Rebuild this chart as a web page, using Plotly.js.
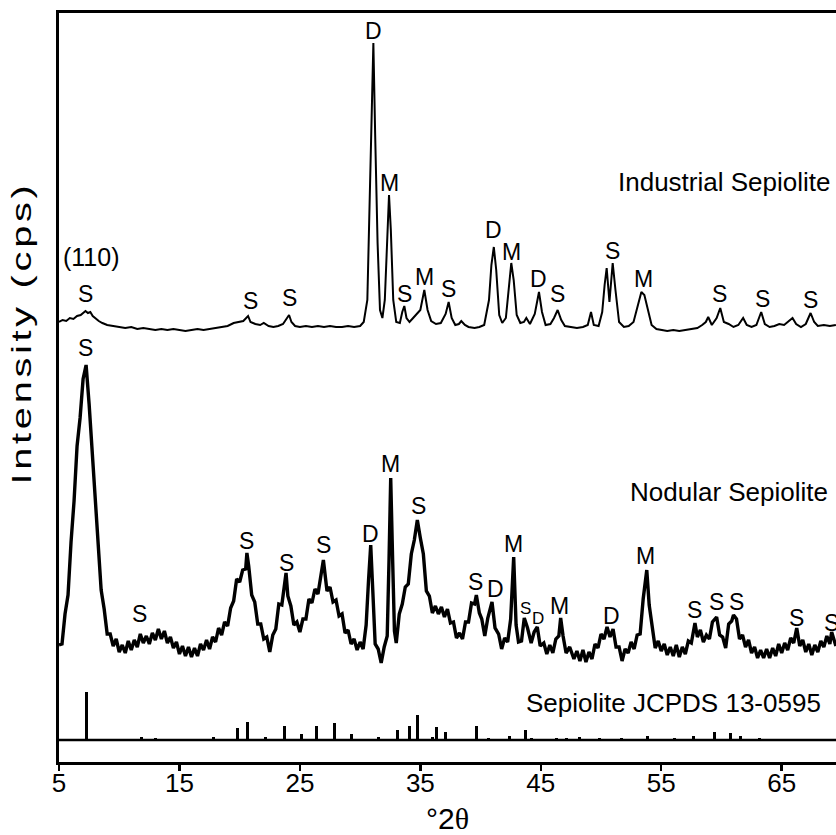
<!DOCTYPE html>
<html>
<head>
<meta charset="utf-8">
<script src="https://cdn.plot.ly/plotly-3.0.1.min.js"></script>
<style>html,body{margin:0;padding:0;background:#fff;}#chart{width:836px;height:835px;}</style>
</head>
<body>
<div id="chart"></div>
<script>
// ---- Industrial sepiolite trace (2θ, intensity, arbitrary offset units) ----
const indX = [5.0,5.3,5.6,5.9,6.2,6.5,6.8,7.0,7.2,7.4,7.6,7.8,8.0,8.3,8.6,9.0,9.5,10.0,10.5,11.0,
11.5,12.0,12.5,13.0,13.5,14.0,14.5,15.0,15.5,16.0,16.5,17.0,17.5,18.0,18.5,19.0,19.5,20.0,20.3,20.7,
20.9,21.3,21.7,22.0,22.4,22.8,23.2,23.6,23.9,24.1,24.3,24.6,25.0,25.5,26.0,26.5,27.0,27.5,28.0,28.5,
29.0,29.5,30.0,30.3,30.6,30.8,31.0,31.1,31.25,31.45,31.65,31.85,32.05,32.25,32.4,32.55,32.75,33.0,33.3,33.5,
33.67,33.85,34.1,34.4,34.75,35.0,35.33,35.6,35.9,36.3,36.7,37.1,37.35,37.6,37.9,38.2,38.4,38.7,39.0,39.5,
39.9,40.3,40.7,40.9,41.1,41.3,41.55,41.8,42.1,42.35,42.55,42.75,43.0,43.3,43.6,43.8,44.1,44.5,44.85,45.1,
45.4,45.8,46.1,46.4,46.7,47.0,47.5,48.0,48.5,48.9,49.17,49.4,49.8,50.1,50.3,50.47,50.7,50.97,51.2,51.5,
51.9,52.3,52.7,53.1,53.35,53.6,53.9,54.2,54.6,55.0,55.5,56.0,56.5,57.0,57.5,58.0,58.4,58.7,58.9,59.2,
59.6,59.9,60.2,60.6,61.0,61.4,61.8,62.1,62.5,62.9,63.3,63.6,64.0,64.4,64.8,65.2,65.5,65.9,66.2,66.6,
67.0,67.4,67.7,68.0,68.5,69.0,69.5];
const indY = [440,442,441,444,443,446,447,449,451,449,450,446,444,441,439,437,436,435,434,435,
433,434,433,432,433,432,433,432,431,432,433,432,433,434,435,436,439,440,441,446,
440,438,437,439,436,435,436,438,443,447,440,436,435,436,435,436,435,436,435,435,
436,435,436,440,462,562,662,719,627,519,452,444,462,532,567,532,462,440,439,450,
456,444,440,444,449,452,472,452,441,438,439,448,460,444,437,438,441,437,435,434,
435,437,462,497,515,492,447,439,444,477,499,482,447,439,440,444,438,448,470,450,
437,438,444,452,442,436,435,434,435,437,450,437,436,450,477,494,460,499,472,440,
435,436,440,457,470,467,452,437,433,432,431,432,431,432,433,434,437,440,445,437,
444,454,440,438,435,437,444,437,435,437,450,438,435,436,438,437,440,444,438,435,
438,449,440,436,437,436,437];

// ---- Nodular sepiolite trace ----
const nodX = [5.0,5.25,5.5,5.75,6.0,6.25,6.5,6.75,7.0,7.25,7.5,7.75,8.0,8.25,8.5,8.75,9.0,9.25,9.5,9.75,
10.0,10.25,10.5,10.75,11.0,11.25,11.5,11.75,12.0,12.25,12.5,12.75,13.0,13.25,13.5,13.75,14.0,14.25,14.5,14.75,
15.0,15.25,15.5,15.75,16.0,16.25,16.5,16.75,17.0,17.25,17.5,17.75,18.0,18.25,18.5,18.75,19.0,19.25,19.5,19.75,
20.0,20.25,20.5,20.6,20.75,21.0,21.25,21.5,21.75,22.0,22.25,22.5,22.75,23.0,23.25,23.5,23.75,23.85,24.0,24.25,
24.5,24.75,25.0,25.25,25.5,25.75,26.0,26.25,26.5,26.75,26.95,27.25,27.5,27.75,28.0,28.25,28.5,28.75,29.0,29.25,
29.5,29.75,30.0,30.25,30.5,30.7,30.88,31.05,31.25,31.5,31.75,32.0,32.25,32.4,32.54,32.7,32.85,33.0,33.25,33.5,
33.75,34.0,34.25,34.5,34.75,35.0,35.25,35.5,35.75,36.0,36.25,36.5,36.75,37.0,37.25,37.5,37.75,38.0,38.25,38.5,
38.75,39.0,39.25,39.5,39.65,39.9,40.1,40.35,40.6,40.95,41.2,41.5,41.75,42.0,42.25,42.5,42.75,42.95,43.15,43.4,
43.63,43.9,44.2,44.45,44.71,44.95,45.25,45.5,45.75,46.0,46.25,46.5,46.65,46.85,47.1,47.4,47.75,48.0,48.25,48.5,
48.75,49.0,49.25,49.5,49.75,50.0,50.25,50.5,50.75,51.0,51.25,51.5,51.75,52.0,52.25,52.5,52.75,53.0,53.25,53.5,
53.8,54.0,54.25,54.5,54.75,55.0,55.25,55.5,55.75,56.0,56.25,56.5,56.75,57.0,57.25,57.5,57.8,58.0,58.25,58.5,
58.75,59.0,59.25,59.6,59.85,60.1,60.35,60.6,60.85,61.0,61.25,61.5,61.75,62.0,62.25,62.5,62.75,63.0,63.25,63.5,
63.75,64.0,64.25,64.5,64.75,65.0,65.25,65.5,65.75,66.0,66.25,66.5,66.75,67.0,67.25,67.5,67.75,68.0,68.25,68.5,
68.75,69.0,69.15,69.5];
const nodY = [117,118,148,167,220,261,316,344,383,397,358,312,258,223,172,153,128,128,116,123,
110,117,109,121,112,122,115,128,119,126,118,129,122,133,123,131,119,125,114,120,
108,116,106,115,105,114,106,118,112,122,113,125,120,134,127,140,136,154,161,183,
180,192,193,209,196,167,160,138,138,123,125,110,127,133,158,157,180,189,166,156,
137,140,130,143,143,163,159,173,168,188,202,171,175,160,162,146,148,129,132,118,
123,112,120,113,137,182,217,172,118,113,99,115,126,202,284,202,131,119,148,158,
175,178,208,222,242,224,208,171,166,149,156,148,155,145,153,139,140,124,129,123,
140,140,159,158,167,149,143,126,144,160,134,128,113,124,120,143,205,137,120,121,
144,134,119,130,135,116,119,108,117,109,123,126,144,126,109,115,103,111,101,112,
100,110,103,118,114,128,123,135,125,133,115,115,101,113,109,120,113,127,128,163,
192,157,135,114,121,111,118,107,115,106,117,105,115,108,121,119,139,125,132,120,
127,123,140,145,127,125,114,138,141,147,143,123,127,115,122,109,115,104,112,104,
113,104,114,106,118,109,119,112,124,119,134,116,122,110,118,107,117,110,121,115,
126,118,130,116];

// ---- Sepiolite JCPDS 13-0595 reference lines ----
const jcpdsBase = 22;
const jcpdsX = [7.29,11.86,13.05,17.8,19.83,20.66,22.15,23.7,25.15,26.36,27.86,29.3,30.54,31.5,32.3,33.1,34.1,34.8,
36.0,36.35,37.05,39.68,40.64,42.4,43.7,44.25,46.3,47.15,48.2,49.9,51.7,53.9,56.1,57.65,59.45,60.77,61.6,63.15];
const jcpdsH = [48,3,2,3,12,18,3,14,6,14,17,6,1.5,3,1.5,10,14,25,
3,13,8,14,2,4,10,2,2,2,3,2,2,4,2,4,8,7,4,2];

// ---- Peak labels ----
const indLabText = ['S','S','S','D','M','S','M','S','D','M','D','S','S','M','S','S','S'];
const indLabX = [7.24,20.86,24.1,31.1,32.42,33.67,35.33,37.35,41.11,42.55,44.85,46.4,50.94,53.51,59.82,63.42,67.4];
const indLabY = [468,461,464,731,579,468,485,473,532,510,483,468,511,483,468,463,462];

const nodLabText = ['S','S','S','S','S','D','M','S','S','D','M','S','D','M','D','M','S','S','S','S','S'];
const nodLabX = [7.24,11.72,20.53,23.9,26.94,30.9,32.54,34.83,39.54,41.2,42.72,43.69,44.79,46.54,50.88,53.73,57.8,59.55,61.26,66.24,69.15];
const nodLabY = [414,148,221,199,217,228,298,256,180,173,218,154,144,156,146,206,152,160,160,144,139];
const nodLabSmall = [11,12];

const sampleNames = ['Industrial Sepiolite','Nodular Sepiolite','Sepiolite JCPDS 13-0595'];
const sampleNameX = [69.16,69.0,68.45];
const sampleNameY = [580,270,59];

const xTicks = [5,15,25,35,45,55,65];

const FONT = 'Liberation Sans, Arial, Helvetica, sans-serif';

const data = [
  {type:'scatter', mode:'lines', x:indX, y:indY, line:{color:'#000', width:2}, hoverinfo:'skip'},
  {type:'scatter', mode:'lines', x:nodX, y:nodY, line:{color:'#000', width:3.4}, hoverinfo:'skip'},
  {type:'bar', x:jcpdsX, y:jcpdsH, base:jcpdsBase, width:0.25, marker:{color:'#000', line:{width:0}}, hoverinfo:'skip'}
];

const annotations = [];
indLabText.forEach((t,i)=>annotations.push({x:indLabX[i], y:indLabY[i], text:t, showarrow:false, xanchor:'center', yanchor:'middle', font:{family:FONT, size:23, color:'#000'}}));
nodLabText.forEach((t,i)=>annotations.push({x:nodLabX[i], y:nodLabY[i], text:t, showarrow:false, xanchor:'center', yanchor:'middle', font:{family:FONT, size: nodLabSmall.includes(i)?17:23, color:'#000'}}));
annotations.push({x:7.71, y:505, text:'(110)', showarrow:false, xanchor:'center', yanchor:'middle', font:{family:FONT, size:25, color:'#000'}});
sampleNames.forEach((t,i)=>annotations.push({x:sampleNameX[i], y:sampleNameY[i], text:t, showarrow:false, xanchor:'right', yanchor:'middle', font:{family:FONT, size:26, color:'#000'}}));

const layout = {
  width:836, height:835,
  margin:{l:59, r:0, t:13, b:73, pad:0},
  paper_bgcolor:'#fff', plot_bgcolor:'#fff',
  showlegend:false,
  bargap:0,
  xaxis:{
    range:[5,69.51], tickvals:xTicks, ticktext:xTicks.map(String),
    ticks:'outside', ticklen:6, tickwidth:2.5, tickcolor:'#000',
    showline:true, linewidth:3, linecolor:'#000', mirror:true,
    showgrid:false, zeroline:false,
    tickfont:{family:FONT, size:26, color:'#000'},
    title:{text:'°2<span style="font-family:Liberation Serif, Times New Roman, serif">θ</span>', font:{family:FONT, size:30, color:'#000'}, standoff:18}
  },
  yaxis:{
    range:[0,749], showline:true, linewidth:3, linecolor:'#000', mirror:false,
    showticklabels:false, ticks:'', showgrid:false, zeroline:false,
    title:{text:'Intensity (cps)', font:{family:FONT, size:27, color:'#000'}, standoff:10}
  },
  shapes:[
    {type:'line', xref:'paper', x0:0, x1:1, yref:'y', y0:jcpdsBase, y1:jcpdsBase, line:{color:'#000', width:2.5}}
  ],
  annotations:annotations
};

// placement tweaks matching the reference figure
const yTitleCenter = [22, 333], yTitleLength = 303;
const xTickLabelLift = 10;

Plotly.newPlot('chart', data, layout, {staticPlot:true, displayModeBar:false}).then(gd=>{
  const t = gd.querySelector('text.ytitle');
  if (t) {
    t.style.letterSpacing = '2.5px';
    t.setAttribute('transform', '');
    const b = t.getBBox();
    const lcx = b.x + b.width/2, lcy = b.y + b.height/2;
    const s = yTitleLength / b.width;
    t.setAttribute('transform', `translate(${yTitleCenter[0]},${yTitleCenter[1]}) rotate(-90) scale(${s},1) translate(${-lcx},${-lcy})`);
  }
  gd.querySelectorAll('g.xtick text').forEach(el=>{
    const tr = el.getAttribute('transform') || '';
    el.setAttribute('transform', `translate(0,${-xTickLabelLift}) ${tr}`);
  });
});
</script>
</body>
</html>
